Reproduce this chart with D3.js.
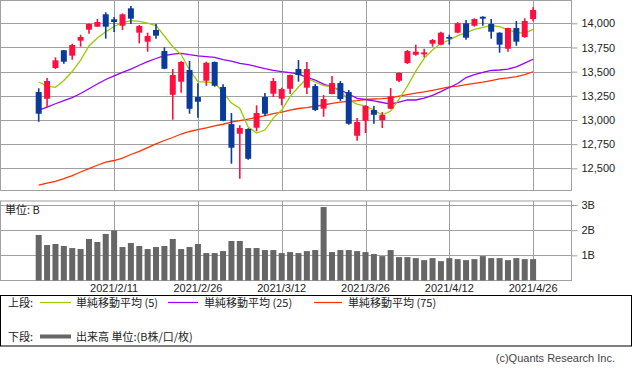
<!DOCTYPE html>
<html lang="ja">
<head>
<meta charset="UTF-8">
<title>Candlestick with volume</title>
<script src="https://d3js.org/d3.v7.min.js"></script>
<style>
  body { margin: 0; background: #fff; }
  text { font-family: "Liberation Sans", Arial, sans-serif; fill: #222; }
  .jp { font-family: "Noto Sans CJK JP", "Noto Sans", sans-serif; }
</style>
</head>
<body>
<svg width="633" height="370"></svg>
<script>
// data (60 sessions, index 0..59)
const openP = [13289,13220,13538,13721,13665,13820,13934,13965,14093,14041,
               13975,14155,13903,13810,13931,13713,13261,13396,13517,13238,
               13406,13600,13341,12958,12858,12907,12920,13238,13272,13220,
               13323,13527,13334,13351,13117,13269,13382,13289,12837,12992,
               13103,12999,13117,13406,13589,13675,13679,13789,13779,13858,
               13903,14000,13975,14068,13993,13903,13737,13951,13858,14044];
const highP = [13328,13434,13648,13725,13789,13882,13998,14044,14114,14065,
               14103,14179,13982,13903,13993,13752,13527,13610,13610,13379,
               13603,13605,13369,13072,12945,12914,13152,13279,13434,13334,
               13470,13620,13600,13372,13258,13455,13403,13310,13020,13152,
               13144,13082,13331,13490,13724,13779,13737,13838,13913,13882,
               14013,14034,14052,14072,14044,13907,13955,14024,14052,14165];
const lowP = [12982,13131,13527,13582,13623,13758,13892,13965,13841,13910,
              13931,13993,13793,13706,13841,13525,13003,13282,13065,13023,
              13354,13344,12988,12548,12392,12589,12883,13041,13238,13152,
              13269,13396,13269,13093,13034,13265,13196,12951,12785,12865,
              12961,12917,13112,13393,13579,13665,13648,13758,13772,13779,
              13898,13830,13965,13975,13841,13696,13706,13768,13851,14021];
const closeP = [13065,13403,13617,13603,13776,13858,13993,14013,13965,14013,
                14093,14048,13972,13869,13872,13530,13465,13600,13116,13189,
                13592,13354,12992,12713,12917,12599,13072,13065,13403,13320,
                13465,13465,13527,13103,13217,13382,13217,12961,12979,13144,
                13054,13051,13245,13486,13713,13706,13700,13827,13903,13841,
                14000,13851,14044,14048,13913,13779,13951,13810,14024,14138];
const ma5 = [13393,13351,13338,13408,13501,13620,13765,13848,13913,13967,
             14008,14027,14019,14003,13977,13869,13758,13677,13517,13396,
             13393,13385,13289,13175,13121,12927,12865,12896,13020,13103,
             13241,13341,13431,13393,13356,13346,13300,13206,13165,13144,
             13103,13051,13093,13217,13351,13506,13638,13724,13793,13827,
             13872,13903,13938,13959,13975,13965,13931,13907,13896,13938];
const ma25 = [13103,13134,13168,13201,13232,13274,13323,13372,13419,13457,
              13493,13527,13566,13603,13636,13665,13682,13688,13675,13664,
              13656,13648,13625,13610,13586,13572,13553,13532,13514,13501,
              13491,13475,13441,13413,13372,13341,13310,13269,13224,13212,
              13198,13181,13165,13186,13207,13207,13227,13255,13294,13336,
              13377,13439,13470,13493,13512,13517,13527,13550,13589,13628];
const ma75 = [12327,12348,12366,12394,12425,12462,12496,12532,12565,12581,
              12606,12643,12676,12715,12753,12788,12819,12855,12881,12901,
              12919,12938,12956,12979,12994,13010,13025,13046,13067,13082,
              13101,13119,13129,13142,13155,13172,13184,13193,13201,13212,
              13217,13222,13229,13246,13263,13279,13291,13307,13325,13343,
              13351,13366,13379,13391,13408,13426,13436,13449,13470,13499];
const volume = [1.81,1.41,1.45,1.37,1.29,1.25,1.65,1.53,1.85,1.99,
                1.33,1.49,1.37,1.25,1.33,1.37,1.65,1.25,1.33,1.45,
                1.09,1.09,1.17,1.57,1.57,1.29,1.29,1.21,1.21,1.09,
                1.13,1.09,1.17,1.21,2.92,1.13,1.21,1.21,1.17,1.13,
                1.05,0.97,1.21,0.93,0.93,0.89,0.81,0.89,0.77,0.89,
                0.85,0.81,0.85,0.97,0.89,0.89,0.81,0.89,0.85,0.85];
const dateTicks = [9, 19, 29, 39, 49, 59];
const dateLabels = ["2021/2/11","2021/2/26","2021/3/12","2021/3/26","2021/4/12","2021/4/26"];
const priceTicks = [12500, 12750, 13000, 13250, 13500, 13750, 14000];
const volTicks = [1, 2, 3];
const legendTop = ["単純移動平均 (5)", "単純移動平均 (25)", "単純移動平均 (75)"];
const legendBottom = "出来高 単位:(B株/口/枚)";

const svg = d3.select("svg");
const gridColor = "#a0a0a0";
const upColor = "#ff0f3f", downColor = "#0a3a9c";
const maColors = ["#99cc00", "#9900ff", "#ff3300"];

const plotRight = 571.5;
const idx = d3.range(openP.length);
const x = d3.scalePoint().domain(idx).range([38.7, 533.1]);
const y = d3.scaleLinear().domain([12276, 14241]).range([190, 0]);
const yv = d3.scaleLinear().domain([0, 3.16]).range([280.5, 201]);

// ---- price panel ----
const priceG = svg.append("g");
priceG.append("g").selectAll("line").data(priceTicks).enter().append("line")
  .attr("x1", 0.5).attr("x2", plotRight)
  .attr("y1", d => Math.round(y(d)) + 0.5).attr("y2", d => Math.round(y(d)) + 0.5)
  .attr("stroke", gridColor);
priceG.append("g").selectAll("line").data(dateTicks).enter().append("line")
  .attr("x1", d => Math.round(x(d)) + 0.5).attr("x2", d => Math.round(x(d)) + 0.5)
  .attr("y1", 0.5).attr("y2", 190.5)
  .attr("stroke", gridColor);
priceG.append("rect").attr("x", 0.5).attr("y", 0.5).attr("width", plotRight - 0.5).attr("height", 190)
  .attr("fill", "none").attr("stroke", gridColor);

const yAxis = priceG.append("g").attr("transform", `translate(${plotRight},0)`)
  .call(d3.axisRight(y).tickValues(priceTicks).tickSize(6).tickPadding(4).tickFormat(d3.format(",")));
yAxis.select(".domain").remove();
yAxis.selectAll("line").attr("stroke", gridColor);
yAxis.selectAll("text").attr("font-size", 11).style("font-family", "Liberation Sans, Arial, sans-serif").attr("fill", "#222");

// moving averages
[ma75, ma25, ma5].forEach((arr, k) => {
  priceG.append("path").datum(arr)
    .attr("fill", "none")
    .attr("stroke", maColors[2 - k])
    .attr("stroke-width", 1.3)
    .attr("d", d3.line().x((d, i) => x(i)).y(d => y(d)));
});

// candles
const candle = priceG.append("g").selectAll("g").data(idx).enter().append("g");
candle.append("line")
  .attr("x1", i => x(i)).attr("x2", i => x(i))
  .attr("y1", i => y(highP[i])).attr("y2", i => y(lowP[i]))
  .attr("stroke", i => closeP[i] >= openP[i] ? upColor : downColor)
  .attr("stroke-width", 1.6);
candle.append("rect")
  .attr("x", i => x(i) - 3)
  .attr("width", 6)
  .attr("y", i => y(Math.max(openP[i], closeP[i])))
  .attr("height", i => Math.max(1.5, Math.abs(y(openP[i]) - y(closeP[i]))))
  .attr("fill", i => closeP[i] >= openP[i] ? upColor : downColor);

// ---- volume panel ----
const volG = svg.append("g");
volG.append("g").selectAll("line").data(volTicks).enter().append("line")
  .attr("x1", 0.5).attr("x2", plotRight)
  .attr("y1", d => Math.round(yv(d)) + 0.5).attr("y2", d => Math.round(yv(d)) + 0.5)
  .attr("stroke", gridColor);
volG.append("g").selectAll("line").data(dateTicks).enter().append("line")
  .attr("x1", d => Math.round(x(d)) + 0.5).attr("x2", d => Math.round(x(d)) + 0.5)
  .attr("y1", 201).attr("y2", 280.5)
  .attr("stroke", gridColor);
volG.append("rect").attr("x", 0.5).attr("y", 201).attr("width", plotRight - 0.5).attr("height", 79.5)
  .attr("fill", "none").attr("stroke", gridColor);

volG.append("g").selectAll("rect").data(volume).enter().append("rect")
  .attr("x", (d, i) => x(i) - 3)
  .attr("width", 6)
  .attr("y", d => yv(d))
  .attr("height", d => yv(0) - yv(d))
  .attr("fill", "#666666");

const vAxis = volG.append("g").attr("transform", `translate(${plotRight},0)`)
  .call(d3.axisRight(yv).tickValues(volTicks).tickSize(6).tickPadding(4).tickFormat(d => d + "B"));
vAxis.select(".domain").remove();
vAxis.selectAll("line").attr("stroke", gridColor);
vAxis.selectAll("text").attr("font-size", 11).style("font-family", "Liberation Sans, Arial, sans-serif").attr("fill", "#222");

volG.append("text").attr("class", "jp").attr("x", 5).attr("y", 213.5)
  .attr("font-size", 11).text("単位: B");

// date labels
svg.append("g").selectAll("text").data(dateTicks).enter().append("text")
  .attr("x", d => x(d)).attr("y", 291.5)
  .attr("text-anchor", "middle").attr("font-size", 11)
  .text((d, i) => dateLabels[i]);

// ---- legend ----
const lg = svg.append("g");
lg.append("rect").attr("x", 0.5).attr("y", 295.5).attr("width", 631).attr("height", 50.5)
  .attr("fill", "none").attr("stroke", "#000");
lg.append("text").attr("class", "jp").attr("x", 8).attr("y", 307).attr("font-size", 11).text("上段:");
const legX = [[40, 71, 76], [168, 198, 204], [314, 342, 348]];
legendTop.forEach((t, k) => {
  lg.append("line").attr("x1", legX[k][0]).attr("x2", legX[k][1])
    .attr("y1", 302.5).attr("y2", 302.5).attr("stroke", maColors[k]).attr("stroke-width", 1.2);
  lg.append("text").attr("class", "jp").attr("x", legX[k][2]).attr("y", 307)
    .attr("font-size", 11).text(t);
});
lg.append("text").attr("class", "jp").attr("x", 8).attr("y", 341).attr("font-size", 11).text("下段:");
lg.append("line").attr("x1", 40).attr("x2", 71).attr("y1", 336.5).attr("y2", 336.5)
  .attr("stroke", "#666").attr("stroke-width", 4);
lg.append("text").attr("class", "jp").attr("x", 76).attr("y", 341).attr("font-size", 11).text(legendBottom);

svg.append("text").attr("x", 615).attr("y", 362).attr("text-anchor", "end")
  .attr("font-size", 11).style("fill", "#444")
  .text("(c)Quants Research Inc.");
</script>
</body>
</html>
